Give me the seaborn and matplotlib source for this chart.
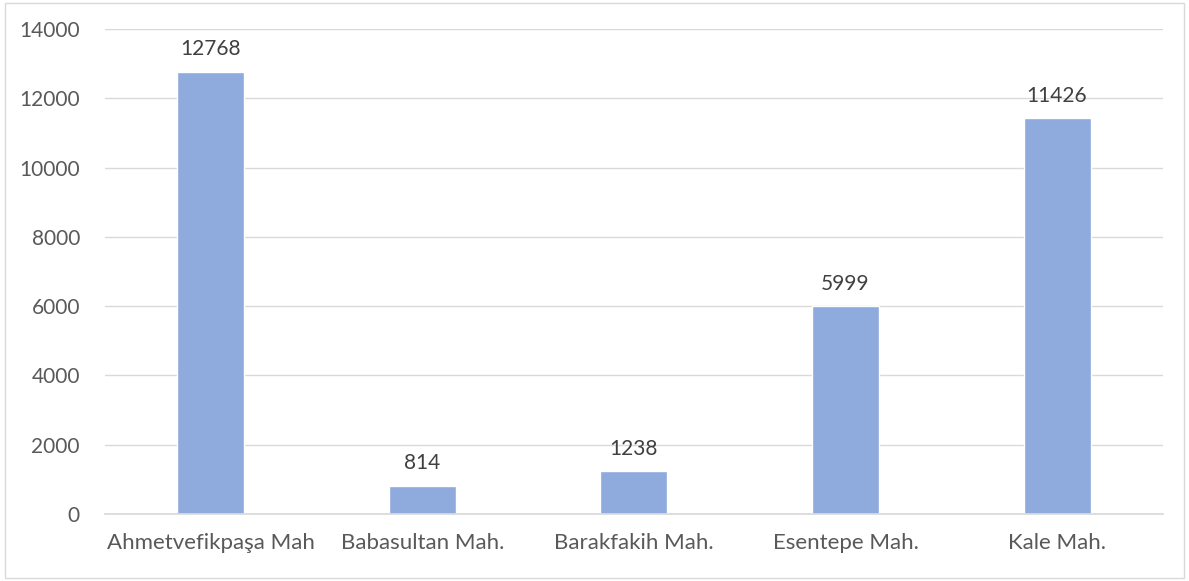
import pandas as pd
import matplotlib.pyplot as plt
import seaborn as sns
from matplotlib.patches import Rectangle

categories = ["Ahmetvefikpaşa Mah", "Babasultan Mah.", "Barakfakih Mah.",
              "Esentepe Mah.", "Kale Mah."]
values = [12768, 814, 1238, 5999, 11426]
yticks = [0, 2000, 4000, 6000, 8000, 10000, 12000, 14000]

sns.set_theme(style="white")
plt.rcParams["font.family"] = ["Lato", "DejaVu Sans"]

df = pd.DataFrame({"mahalle": categories, "count": values})

fig = plt.figure(figsize=(11.89, 5.81), dpi=100)
ax = fig.add_axes([0.0883, 0.1153, 0.8897, 0.8347])

sns.barplot(data=df, x="mahalle", y="count", ax=ax, color="#8FAADC",
            saturation=1, width=0.317)

ax.set_ylim(0, 14000)
ax.set_xlim(-0.5, len(categories) - 0.5)
ax.set_yticks(yticks)
ax.set_yticklabels([str(t) for t in yticks])
ax.yaxis.grid(True, color="#D9D9D9", linewidth=1)
ax.set_axisbelow(True)
ax.set_xlabel("")
ax.set_ylabel("")
for s in ["top", "right", "left"]:
    ax.spines[s].set_visible(False)
ax.spines["bottom"].set_color("#D9D9D9")
ax.tick_params(axis="both", length=0, labelcolor="#595959")
ax.tick_params(axis="y", pad=18, labelsize=15)
ax.tick_params(axis="x", pad=14, labelsize=16)

# value labels above bars
for i, v in enumerate(values):
    ax.annotate(str(v), (i, v), xytext=(0, 9), textcoords="offset points",
                ha="center", va="bottom", fontsize=15, color="#404040")

# chart border
fig.patches.append(Rectangle((0.004, 0.006), 0.992, 0.988, transform=fig.transFigure,
                             fill=False, edgecolor="#D9D9D9", linewidth=1))

fig.savefig("out.png", dpi=100)
